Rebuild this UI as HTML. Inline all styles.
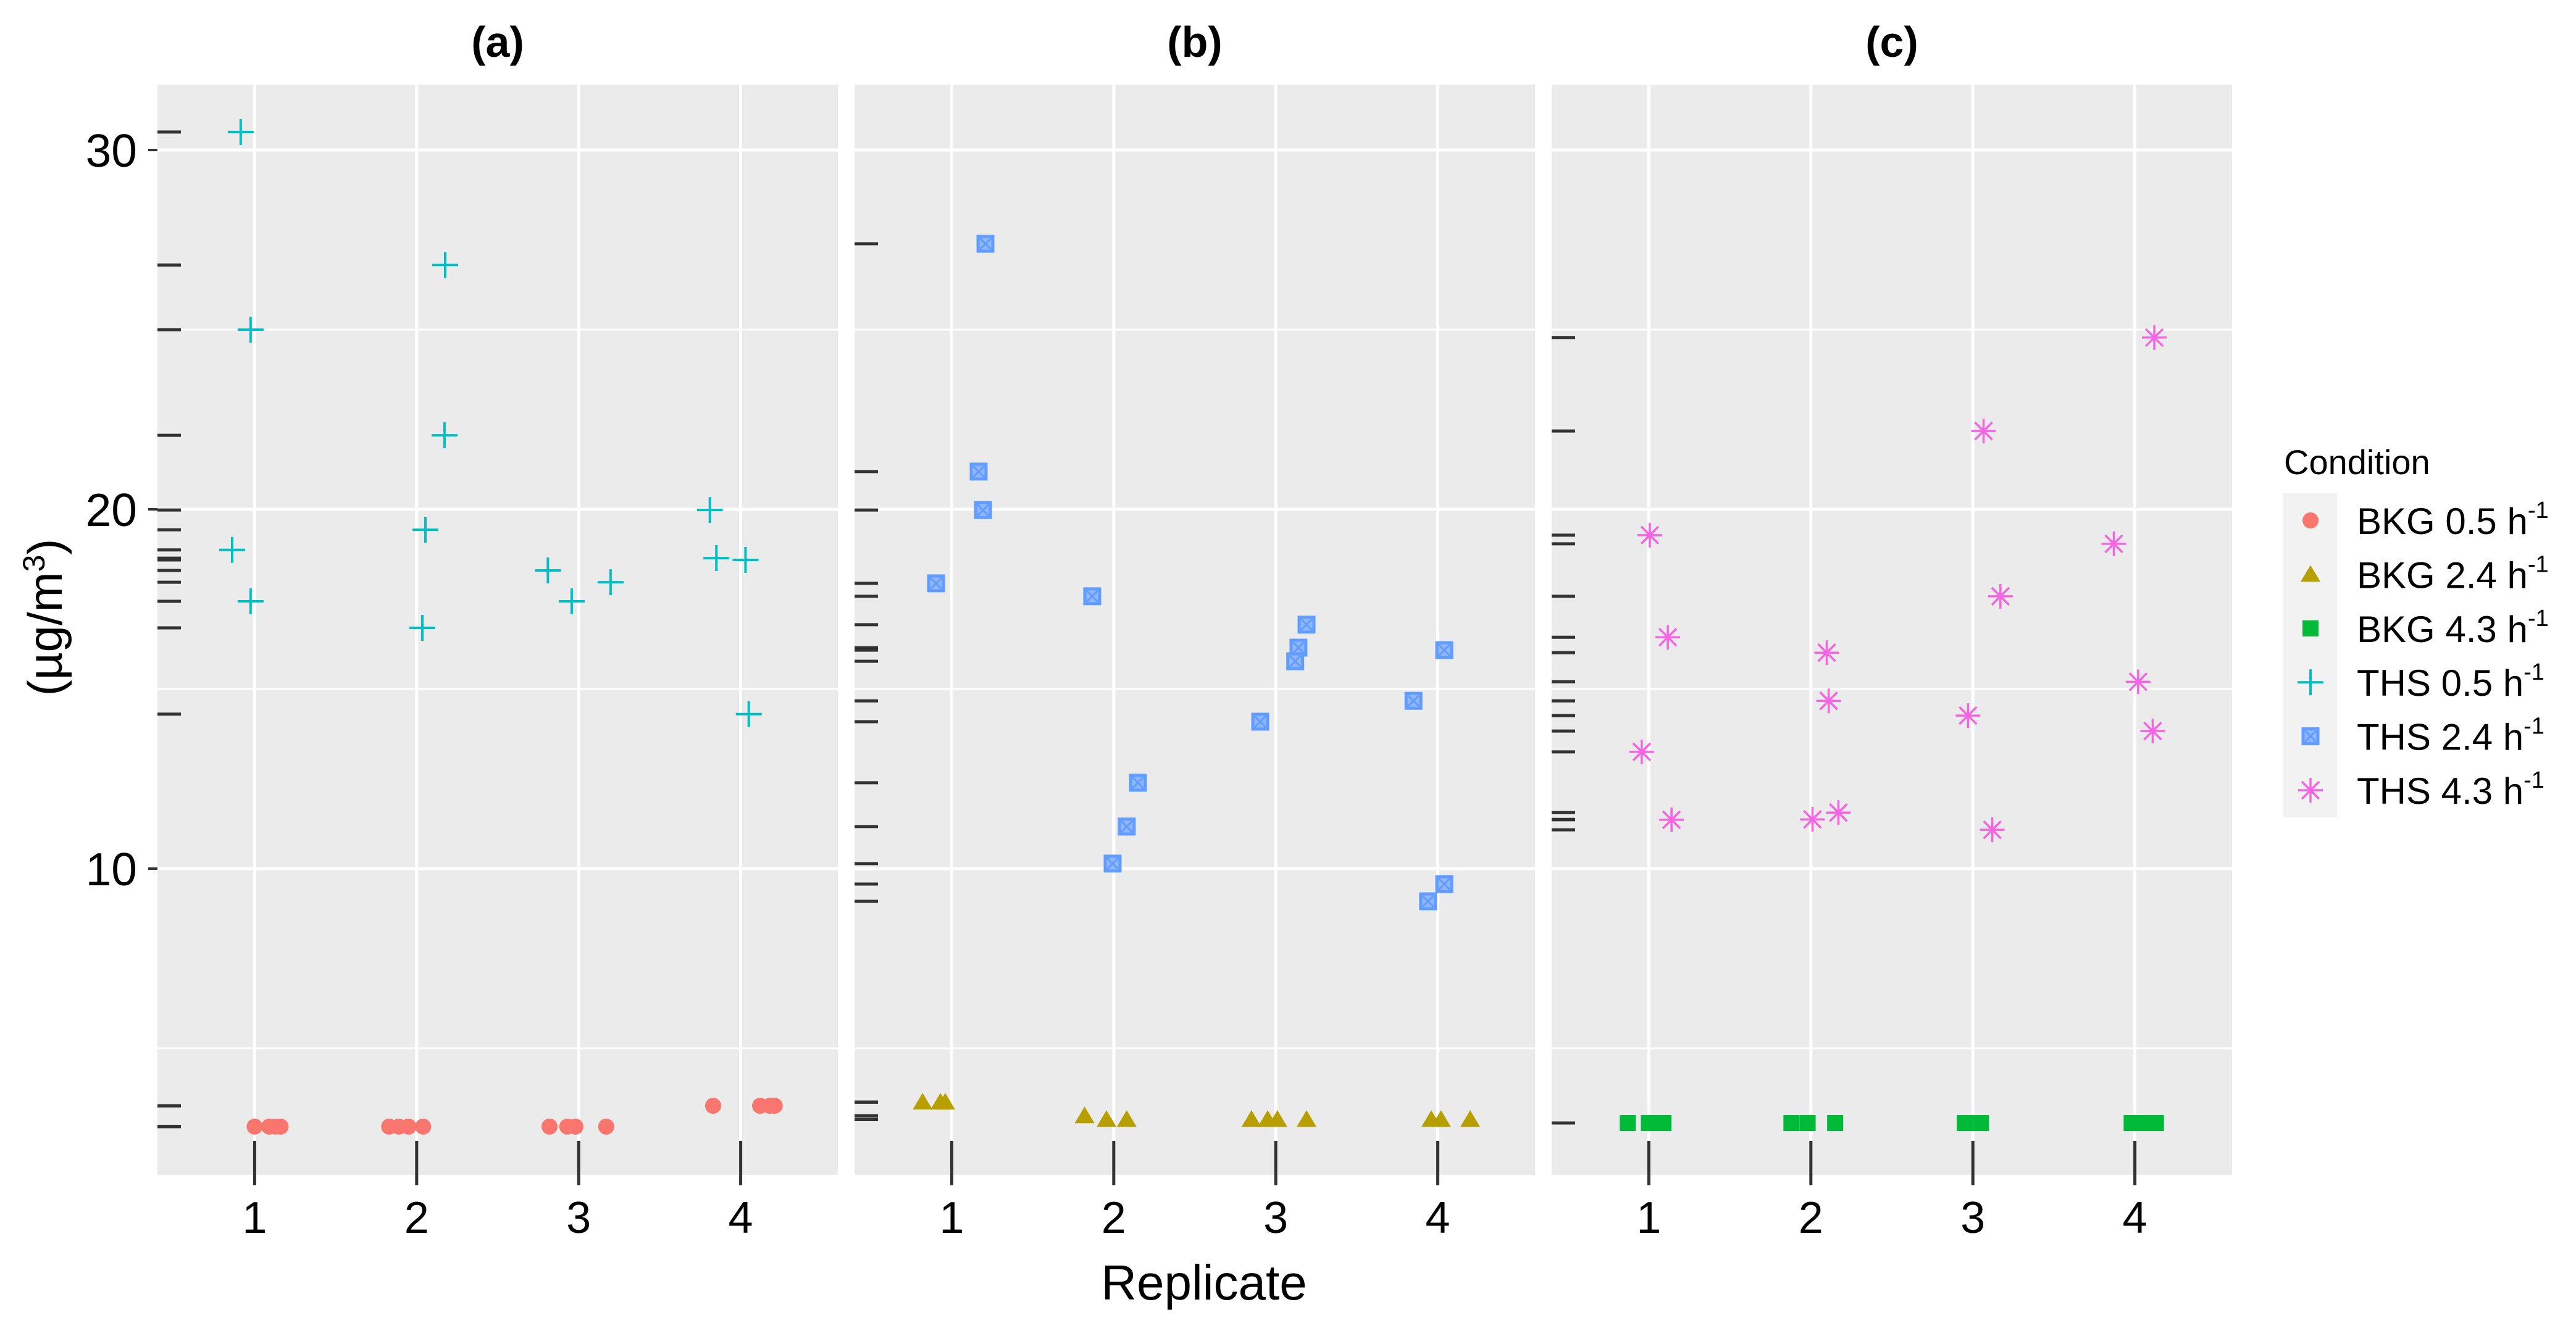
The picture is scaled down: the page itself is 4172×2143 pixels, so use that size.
<!DOCTYPE html>
<html><head><meta charset="utf-8"><style>
html,body{margin:0;padding:0;background:#fff}
svg{display:block;font-family:"Liberation Sans",sans-serif}
</style></head><body>
<svg id="chart" width="4172" height="2143" viewBox="0 0 4172 2143" xmlns="http://www.w3.org/2000/svg"></svg>
<script>
// ---- data ----
const panelTitles = ["(a)", "(b)", "(c)"];
const xCategories = [1, 2, 3, 4];
const yMajorTicks = [10, 20, 30];
const yMinorTicks = [5, 15, 25];
const seriesNames = ["BKG 0.5", "BKG 2.4", "BKG 4.3", "THS 0.5", "THS 2.4", "THS 4.3"];
// panel (a)
const ths05X = [0.914,0.975,0.861,0.975,2.176,2.172,2.054,2.035,2.81,2.957,3.197,3.81,3.85,4.03,4.05];
const ths05Y = [30.5,25.0,18.87,17.44,26.8,22.06,19.43,16.7,18.3,17.44,17.97,19.98,18.64,18.59,14.3];
const bkg05X = [1.0,1.09,1.13,1.16,1.83,1.89,1.95,2.04,2.82,2.93,2.98,3.17,3.83,4.12,4.18,4.21];
const bkg05Y = [2.82,2.82,2.82,2.82,2.82,2.82,2.82,2.82,2.82,2.82,2.82,2.82,3.4,3.4,3.4,3.4];
// panel (b)
const ths24X = [1.208,1.166,1.193,0.903,1.867,2.149,2.08,1.993,2.904,3.19,3.14,3.12,3.85,4.04,4.04,3.94];
const ths24Y = [27.39,21.05,19.98,17.94,17.58,12.39,11.17,10.14,14.09,16.79,16.15,15.77,14.67,16.08,9.57,9.09];
const bkg24X = [0.82,0.93,0.96,1.82,1.955,2.08,2.85,2.95,3.01,3.19,3.96,4.02,4.2];
const bkg24Y = [3.5,3.5,3.5,3.12,3.02,3.02,3.02,3.02,3.02,3.02,3.02,3.02,3.02];
// panel (c)
const ths43X = [1.006,1.117,0.956,1.14,2.098,2.11,2.01,2.17,3.066,3.17,2.97,3.12,4.12,3.87,4.02,4.11];
const ths43Y = [19.28,16.44,13.25,11.36,16.01,14.67,11.37,11.56,22.18,17.58,14.26,11.08,24.78,19.04,15.2,13.83];
const bkg43X = [0.87,1.0,1.09,1.88,1.98,2.15,2.95,3.05,3.98,4.05,4.13];
const bkg43Y = [2.92,2.92,2.92,2.92,2.92,2.92,2.92,2.92,2.92,2.92,2.92];

// ---- layout ----
const NS = "http://www.w3.org/2000/svg";
const svg = document.getElementById("chart");
const panelLefts = [255, 1384, 2513];
const panelW = 1102, pTop = 137, pBot = 1903;
const xMin = 0.4, xMax = 4.6, yRef = 10, yRefPx = 1407, yPerUnit = 58.2;
const colors = ["#F8766D","#B79F00","#00BA38","#00BFC4","#619CFF","#F564E3"];
function yScale(v){ return yRefPx - (v - yRef) * yPerUnit; }
function xScale(p, v){ return panelLefts[p] + (v - xMin) / (xMax - xMin) * panelW; }
function mk(tag, attrs, parent){
  const e = document.createElementNS(NS, tag);
  for (const k in attrs) e.setAttribute(k, attrs[k]);
  (parent || svg).appendChild(e);
  return e;
}
function marker(kind, cx, cy, color, parent){
  const g = mk("g", {}, parent);
  if (kind === 0) mk("circle", {cx:cx, cy:cy, r:13, fill:color}, g);
  else if (kind === 1) mk("polygon", {points:`${cx-16},${cy+12} ${cx+16},${cy+12} ${cx},${cy-15}`, fill:color}, g);
  else if (kind === 2) mk("rect", {x:cx-13, y:cy-13, width:26, height:26, fill:color}, g);
  else if (kind === 3) { mk("path", {d:`M${cx-21},${cy}H${cx+21}M${cx},${cy-21}V${cy+21}`, stroke:color, "stroke-width":4, fill:"none"}, g); }
  else if (kind === 4) { mk("rect", {x:cx-12, y:cy-12, width:24, height:24, fill:"#8FB6FF", stroke:color, "stroke-width":5}, g);
    mk("path", {d:`M${cx-9},${cy-9}L${cx+9},${cy+9}M${cx+9},${cy-9}L${cx-9},${cy+9}`, stroke:color, "stroke-width":3}, g); }
  else { mk("path", {d:`M${cx-20},${cy}H${cx+20}M${cx},${cy-20}V${cy+20}M${cx-14},${cy-14}L${cx+14},${cy+14}M${cx+14},${cy-14}L${cx-14},${cy+14}`, stroke:color, "stroke-width":3.5, fill:"none"}, g); }
  return g;
}
const panelSeries = [[[0,bkg05X,bkg05Y],[3,ths05X,ths05Y]],[[1,bkg24X,bkg24Y],[4,ths24X,ths24Y]],[[2,bkg43X,bkg43Y],[5,ths43X,ths43Y]]];

for (let p = 0; p < 3; p++){
  const L = panelLefts[p];
  const pg = mk("g", {});
  
  
  const bg = mk("rect", {x:L, y:pTop, width:panelW, height:pBot-pTop, fill:"#EBEBEB"}, pg);
  
  
  yMinorTicks.forEach(v => { const l = mk("line", {x1:L, x2:L+panelW, y1:yScale(v), y2:yScale(v), stroke:"#fff", "stroke-width":3}, pg);
      });
  yMajorTicks.forEach(v => { const l = mk("line", {x1:L, x2:L+panelW, y1:yScale(v), y2:yScale(v), stroke:"#fff", "stroke-width":5}, pg);
      });
  xCategories.forEach(c => { const l = mk("line", {x1:xScale(p,c), x2:xScale(p,c), y1:pTop, y2:pBot, stroke:"#fff", "stroke-width":5}, pg);
      });
  // title
  const t = mk("text", {x:L+panelW/2, y:92, "text-anchor":"middle", "font-size":70, "font-weight":"bold", fill:"#000"}, pg);
  t.textContent = panelTitles[p];
   
  // rugs
  panelSeries[p].forEach(s => { s[2].forEach(v => {
    const r = mk("line", {x1:L, x2:L+38, y1:yScale(v), y2:yScale(v), stroke:"#333", "stroke-width":5}, pg);
      }); });
  xCategories.forEach(c => {
    const r = mk("line", {x1:xScale(p,c), x2:xScale(p,c), y1:pBot-55, y2:pBot+17, stroke:"#333", "stroke-width":5}, pg);
     
    const tl = mk("text", {x:xScale(p,c), y:1997, "text-anchor":"middle", "font-size":72, fill:"#000"}, pg);
    tl.textContent = c;
     
  });
  // points
  panelSeries[p].forEach(s => { s[1].forEach((xv, i) => {
    const m = marker(s[0], xScale(p,xv), yScale(s[2][i]), colors[s[0]], pg);
    
     }); });
}
// y axis for panel a
yMajorTicks.forEach(v => {
  const tk = mk("line", {x1:240, x2:255, y1:yScale(v), y2:yScale(v), stroke:"#333", "stroke-width":4});
   
  const tl = mk("text", {x:222, y:yScale(v)+27, "text-anchor":"end", "font-size":75, fill:"#000"});
  tl.textContent = v;
   
});
const yt = mk("text", {x:0, y:0, transform:"translate(100,1000) rotate(-90)", "text-anchor":"middle", "font-size":78, fill:"#000"});
yt.innerHTML = '(µg/m<tspan dy="-28" font-size="50">3</tspan><tspan dy="28">)</tspan>';
 
const xt = mk("text", {x:1950, y:2105, "text-anchor":"middle", "font-size":80, fill:"#000"});
xt.textContent = "Replicate";
 
// legend
const lg = mk("g", {});
 
const lt = mk("text", {x:3699, y:768, "font-size":56, fill:"#000"}, lg);
lt.textContent = "Condition";
 
const kb = mk("rect", {x:3698, y:799, width:87, height:525, fill:"#F2F2F2"}, lg);
 
seriesNames.forEach((n, i) => {
  const cy = 843 + i * 87.4;
  const e = mk("g", {}, lg);
   
  marker(i, 3742, cy, colors[i], e);
  const tx = mk("text", {x:3817, y:cy+22, "font-size":60, fill:"#000"}, e);
  tx.innerHTML = n + ' h<tspan dy="-26" font-size="38">-1</tspan>';
});
</script>
</body></html>
